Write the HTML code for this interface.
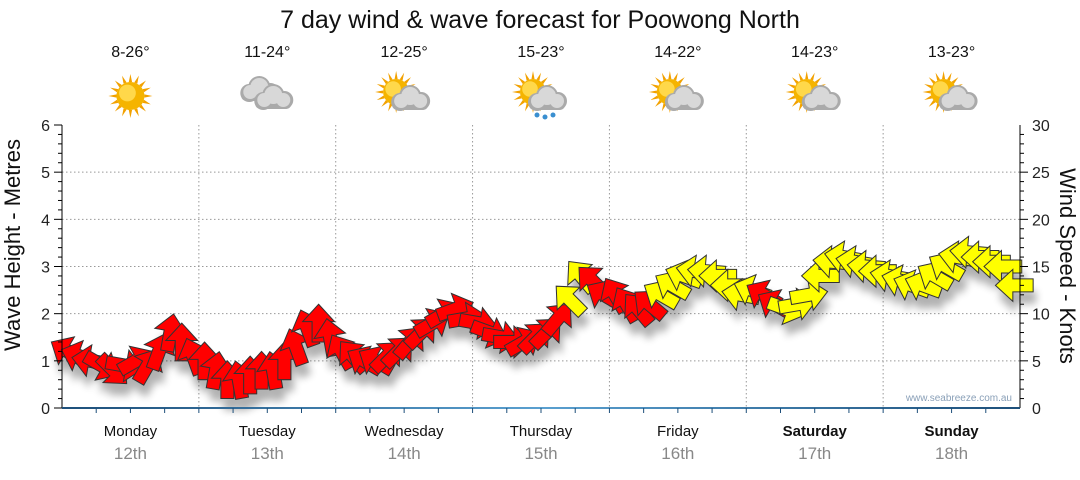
<!DOCTYPE html>
<html><head><meta charset="utf-8"><style>
body{margin:0;background:#fff;font-family:"Liberation Sans","DejaVu Sans",sans-serif}
</style></head><body>
<svg id="c" width="1080" height="475" viewBox="0 0 1080 475" xmlns="http://www.w3.org/2000/svg">
<defs><filter id="sh" x="-50%" y="-50%" width="200%" height="200%"><feGaussianBlur stdDeviation="4"/></filter>
<linearGradient id="ax" x1="0" x2="1"><stop offset="0" stop-color="#1d4f7a"/><stop offset="0.5" stop-color="#5aa0d0"/><stop offset="1" stop-color="#1d4f7a"/></linearGradient></defs>
<text x="540" y="28" text-anchor="middle" font-size="25" fill="#111">7 day wind &amp; wave forecast for Poowong North</text>
<g id="grid"></g><g id="icons"></g><g id="shadow" filter="url(#sh)" opacity="0.3"></g><g id="arrows"></g><g id="axes"></g>
<text x="20" y="245" transform="rotate(-90 20 245)" text-anchor="middle" font-size="22" fill="#111">Wave Height - Metres</text>
<text x="1060" y="266" transform="rotate(90 1060 266)" text-anchor="middle" font-size="22" fill="#111">Wind Speed - Knots</text>
<text x="1012" y="401" text-anchor="end" font-size="10" fill="#8aa0b8">www.seabreeze.com.au</text>
</svg>
<script>
const days=["Monday","Tuesday","Wednesday","Thursday","Friday","Saturday","Sunday"];
const dates=["12th","13th","14th","15th","16th","17th","18th"];
const temps=["8-26°","11-24°","12-25°","15-23°","14-22°","14-23°","13-23°"];
const icons=["sun","cloud","suncloud","rain","suncloud","suncloud","suncloud"];
const metreTicks=[0,1,2,3,4,5,6];
const knotTicks=[0,5,10,15,20,25,30];
const windSpeed=[6,5.5,5,4.5,4,4.5,5,4.5,6,8,7,5.5, 5,4,3,3,3.5,4,4,5,6.5,8.5,9,7.5, 6,5.5,5,5,5.5,6,7,8,9,10,10.5,9.5, 9,8,7.5,7,7,7.5,8,9.5,11.5,14,13.5,12, 12,11,10.5,11,12,13,14,14.5,14.5,14,13,12, 12.5,12,11,10.5,11,12,14,15.5,16,15.5,15,14.5, 14,13.5,13,13,14,15,16,16.5,16,15.5,15,13];
const windDir=[300,290,280,120,135,100,60,30,20,10,0,340, 0,10,0,350,0,0,350,0,340,340,0,350, 330,320,300,300,45,45,40,45,60,60,70,80, 100,110,100,90,60,45,45,40,315,320,315,300, 330,330,320,310,300,300,290,280,275,270,270,280, 290,300,300,110,80,80,270,275,280,280,275,270, 280,285,290,290,300,300,280,275,270,270,270,270];
const windColor="RRRRRRRRRRRR RRRRRRRRRRRR RRRRRRRRRRRR RRRRRRRRYYRR RRRRYYYYYYYY YRRYYYYYYYYY YYYYYYYYYYYY".replace(/ /g,"");
const NS="http://www.w3.org/2000/svg";
const X0=62,X1=1020,Y0=408,Y1=125;
const xH=h=>X0+h/168*(X1-X0);
const yM=m=>Y0-m/6*(Y0-Y1);
const yK=k=>Y0-k/30*(Y0-Y1);
function mk(tag,attrs,parent){const e=document.createElementNS(NS,tag);for(const k in attrs)e.setAttribute(k,attrs[k]);parent.appendChild(e);return e;}
const grid=document.getElementById('grid'),axes=document.getElementById('axes');
metreTicks.forEach(m=>{if(m>0&&m<6){const l=mk('line',{x1:X0,x2:X1,y1:yM(m),y2:yM(m),stroke:'#999','stroke-dasharray':'1.5 2.5'},grid);

}
const t=mk('text',{x:X0-12,y:yM(m)+6,'text-anchor':'end','font-size':16,fill:'#222'},axes);t.textContent=m;


mk('line',{x1:X0-8,x2:X0,y1:yM(m),y2:yM(m),stroke:'#000'},axes);});
for(let i=1;i<30;i++){if(i%5)mk('line',{x1:X0-4,x2:X0,y1:yM(i/5),y2:yM(i/5),stroke:'#000'},axes);mk('line',{x1:X1,x2:X1+(i%5?4:8),y1:yK(i),y2:yK(i),stroke:'#000'},axes);}
knotTicks.forEach(k=>{const t=mk('text',{x:X1+12,y:yK(k)+6,'font-size':16,fill:'#222'},axes);t.textContent=k;

});
mk('line',{x1:X0,x2:X0,y1:Y1,y2:Y0,stroke:'#000'},axes);
mk('line',{x1:X1,x2:X1,y1:Y1,y2:Y0,stroke:'#000'},axes);
mk('rect',{x:X0,y:Y0-1,width:X1-X0,height:2,fill:'url(#ax)'},axes);
for(let h=6;h<168;h+=6)mk('line',{x1:xH(h),x2:xH(h),y1:Y0,y2:Y0+5,stroke:'#1d4f7a'},axes);
const ic=document.getElementById('icons');
function sun(cx,cy,r,g){for(let a=0;a<360;a+=22.5){const rad=a*Math.PI/180;mk('polygon',{points:`${cx+Math.cos(rad-0.12)*r},${cy+Math.sin(rad-0.12)*r} ${cx+Math.cos(rad)*(r+8)},${cy+Math.sin(rad)*(r+8)} ${cx+Math.cos(rad+0.12)*r},${cy+Math.sin(rad+0.12)*r}`,fill:'#f2a100'},g);}mk('circle',{cx,cy,r,fill:'#f5b400'},g);mk('circle',{cx:cx-3,cy:cy-3,r:r*0.6,fill:'#ffd84a'},g);}
function cloud(cx,cy,g){[[-10,3,9],[0,-3,11],[11,2,9]].forEach(c=>mk('circle',{cx:cx+c[0],cy:cy+c[1],r:c[2],fill:'#aaa'},g));mk('rect',{x:cx-18,y:cy+1,width:36,height:10,rx:5,fill:'#aaa'},g);[[-9,2,7],[0,-3,9],[10,2,7]].forEach(c=>mk('circle',{cx:cx+c[0],cy:cy+c[1],r:c[2],fill:'#d8d8d8'},g));}
var cy;
days.forEach((d,i)=>{const cx=X0+(i+0.5)*(X1-X0)/7;
if(i>0){const l=mk('line',{x1:X0+i*(X1-X0)/7,x2:X0+i*(X1-X0)/7,y1:Y1,y2:Y0,stroke:'#999','stroke-dasharray':'1.5 2.5'},grid);

}
const t=mk('text',{x:cx,y:57,'text-anchor':'middle','font-size':16,fill:'#111'},ic);t.textContent=temps[i];


const g=mk('g',{},ic);


const k=icons[i];
if(k=='sun')sun(cx,cy=96,14,g);
else if(k=='cloud'){cloud(cx-8,90,g);cloud(cx+6,98,g);}
else{sun(cx-8,92,13,g);cloud(cx+6,99,g);if(k=='rain')[[-4,115],[4,117],[12,115]].forEach(p=>mk('circle',{cx:cx+p[0],cy:p[1],r:2.5,fill:'#3a8fd0'},g));}
const dl=mk('text',{x:cx,y:436,'text-anchor':'middle','font-size':15,fill:'#111','font-weight':i>=5?'bold':'normal'},axes);dl.textContent=d;


const dt=mk('text',{x:cx,y:459,'text-anchor':'middle','font-size':17,fill:'#888'},axes);dt.textContent=dates[i];

});
const ar=document.getElementById('arrows'),sh=document.getElementById('shadow');
const shape="0,-13 11,-1 4.5,-1 4.5,13 -4.5,13 -4.5,-1 -11,-1";
windSpeed.forEach((v,i)=>{const x=xH(i*2+1),y=yK(v);
mk('polygon',{points:shape,transform:`translate(${x+3},${y+12}) rotate(${windDir[i]}) scale(1.45)`,fill:'#000'},sh);
const p=mk('polygon',{points:shape,transform:`translate(${x},${y}) rotate(${windDir[i]}) scale(1.45)`,fill:windColor[i]=='Y'?'#ffff00':'#ff0000',stroke:'#333','stroke-width':0.7},ar);

});
</script>
</body></html>
